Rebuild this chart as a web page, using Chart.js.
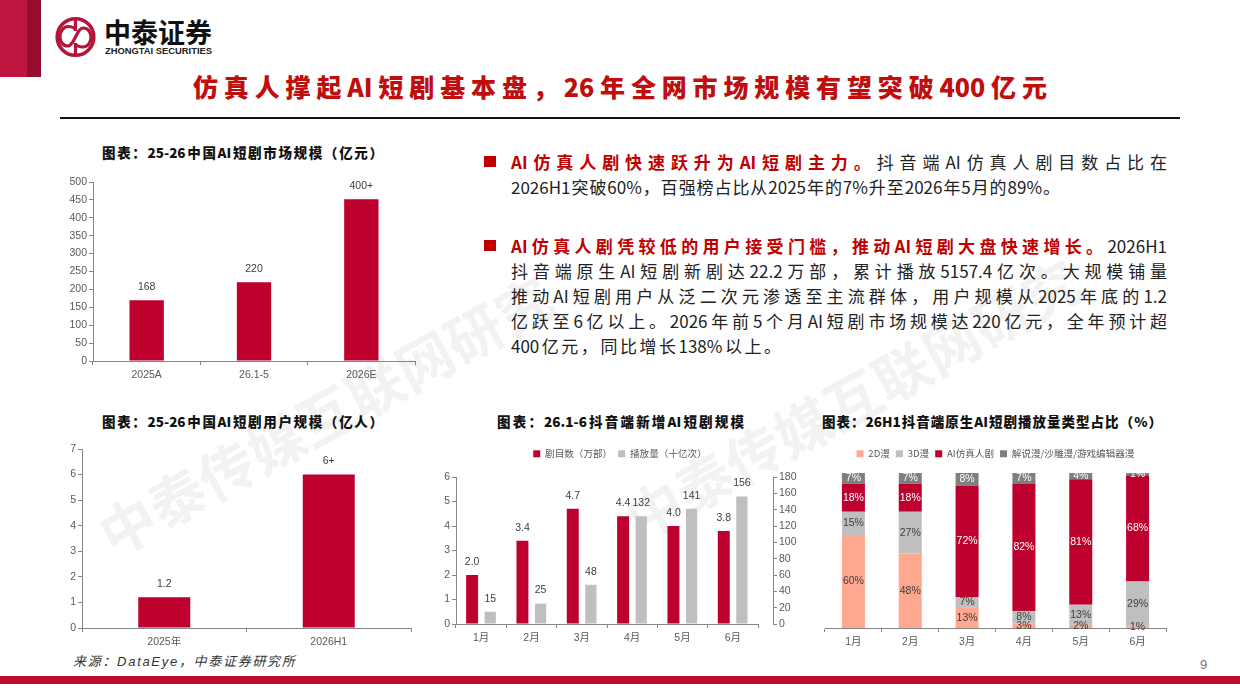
<!DOCTYPE html>
<html>
<head>
<meta charset="utf-8">
<script src="https://cdn.jsdelivr.net/npm/chart.js@4/dist/chart.umd.min.js"></script>
<style>
html,body{margin:0;padding:0;background:#fff;}
#page{position:relative;width:1240px;height:697px;overflow:hidden;font-family:"Noto Sans CJK SC",sans-serif;}
.abs{position:absolute;white-space:nowrap;}
.wm{position:absolute;color:#f2f2f2;font-size:56px;line-height:60px;font-weight:700;white-space:nowrap;transform-origin:left center;transform:rotate(-29deg);letter-spacing:0.6px;}
.ctitle{position:absolute;font-size:13.5px;font-weight:900;color:#111;white-space:normal;text-align:justify;text-align-last:justify;line-height:18px;}
.line{position:absolute;left:511px;font-size:17px;line-height:24px;color:#222;text-align:justify;text-align-last:justify;white-space:normal;}
.line b{color:#c00000;font-weight:700;}
.bullet{position:absolute;left:484px;width:12px;height:11px;background:#c00000;}
.box{position:absolute;}
</style>
</head>
<body>
<div id="page">
  <div class="wm" style="left:102px;top:507px;">中泰传媒互联网研究</div>
  <div class="wm" style="left:629px;top:491px;">中泰传媒互联网研究</div>

  <div class="abs" style="left:0;top:0;width:27px;height:77px;background:#bd1540;"></div>
  <div class="abs" style="left:27px;top:0;width:14px;height:77px;background:#960c2e;"></div>
  <svg class="abs" style="left:50px;top:10px;" width="180" height="55" viewBox="50 10 180 55">
    <circle cx="75.5" cy="37" r="18.3" fill="none" stroke="#b5153a" stroke-width="3.6"/>
    <path d="M75.5 19V31C75.5 27 71 26.5 68 26.5C63 26.5 60 32 60 37C60 42 63 46 68 46C74 46 77 28 83 28C88 28 91 32 91 37C91 42 88 47 83 47C80 47 75.5 46 75.5 43V55" fill="none" stroke="#b5153a" stroke-width="3.2"/>
    <text x="104" y="43" font-size="27" font-weight="700" fill="#111" textLength="108" lengthAdjust="spacingAndGlyphs" font-family="Noto Sans CJK SC">中泰证券</text>
    <text x="105" y="53.5" font-size="8.5" font-weight="700" fill="#222" textLength="107" lengthAdjust="spacingAndGlyphs" font-family="Liberation Sans">ZHONGTAI SECURITIES</text>
  </svg>

  <div class="abs" style="left:193px;top:66px;width:854px;font-size:25px;line-height:40px;font-weight:900;color:#c00d0d;text-align:justify;text-align-last:justify;white-space:normal;">仿真人撑起AI短剧基本盘，26年全网市场规模有望突破400亿元</div>
  <div class="abs" style="left:60px;top:117px;width:1120px;height:2px;background:#111;"></div>

  <div class="bullet" style="top:156px;"></div>
  <div class="line" style="top:150px;width:656px;"><b>AI仿真人剧快速跃升为AI短剧主力。</b>抖音端AI仿真人剧目数占比在</div>
  <div class="line" style="top:175px;width:549px;">2026H1突破60%，百强榜占比从2025年的7%升至2026年5月的89%。</div>
  <div class="bullet" style="top:240px;"></div>
  <div class="line" style="top:234px;width:656px;"><b>AI仿真人剧凭较低的用户接受门槛，推动AI短剧大盘快速增长。</b>2026H1</div>
  <div class="line" style="top:259px;width:656px;">抖音端原生AI短剧新剧达22.2万部，累计播放5157.4亿次。大规模铺量</div>
  <div class="line" style="top:284px;width:656px;">推动AI短剧用户从泛二次元渗透至主流群体，用户规模从2025年底的1.2</div>
  <div class="line" style="top:309px;width:656px;">亿跃至6亿以上。2026年前5个月AI短剧市场规模达220亿元，全年预计超</div>
  <div class="line" style="top:334px;width:270px;">400亿元，同比增长138%以上。</div>

  <div class="ctitle" style="left:102px;width:281px;top:143px;">图表：25-26中国AI短剧市场规模（亿元）</div>
  <div class="ctitle" style="left:102px;width:281px;top:412px;">图表：25-26中国AI短剧用户规模（亿人）</div>
  <div class="ctitle" style="left:497px;width:247px;top:412px;">图表：26.1-6抖音端新增AI短剧规模</div>
  <div class="ctitle" style="left:822px;width:340px;top:412px;">图表：26H1抖音端原生AI短剧播放量类型占比（%）</div>

  <div class="box" style="left:50px;top:170px;width:380px;height:215px;"><canvas id="marketChart"></canvas></div>
  <div class="box" style="left:50px;top:437px;width:380px;height:213px;"><canvas id="userChart"></canvas></div>
  <div class="box" style="left:430px;top:443px;width:380px;height:207px;"><canvas id="newChart"></canvas></div>
  <div class="box" style="left:810px;top:443px;width:380px;height:207px;"><canvas id="typeChart"></canvas></div>

  <div class="abs" style="left:73px;top:651px;font-size:13px;line-height:20px;font-style:italic;color:#333;letter-spacing:1.7px;">来源：<span style="font-family:'Liberation Sans'">DataEye</span>，中泰证券研究所</div>
  <div class="abs" style="left:0;top:676px;width:1240px;height:8px;background:#c00d2e;"></div>
  <div class="abs" style="left:1200px;top:656px;font-size:13px;line-height:18px;color:#777;font-family:'Liberation Sans';">9</div>
</div>

<script>
// market size, 100m yuan
const marketCats = ['2025A', '26.1-5', '2026E']
const marketVals = [170, 220, 452]
const marketLabels = ['168', '220', '400+']

// users, 100m
const userCats = ['2025年', '2026H1']
const userVals = [1.2, 6]
const userLabels = ['1.2', '6+']

// douyin new shows
const months = ['1月', '2月', '3月', '4月', '5月', '6月']
const showCount = [2.0, 3.4, 4.7, 4.4, 4.0, 3.8]
const playCount = [15, 25, 48, 132, 141, 156]

// play share by type, %
const share2D = [60, 48, 13, 3, 2, 1]
const share3D = [15, 27, 7, 8, 13, 29]
const shareAI = [18, 18, 72, 82, 81, 68.6]
const shareOther = [7, 7, 8, 7, 4, 1.4]

const RED = '#bd002e'
const GREY = '#bfbfbf'
const AXIS = '#868686'
const TXT = '#595959'
const LATIN = '"Liberation Sans", "Noto Sans CJK SC", sans-serif'

Chart.defaults.font.family = LATIN
Chart.defaults.animation = false
Chart.defaults.responsive = true
Chart.defaults.maintainAspectRatio = false

// labels above/inside the bars
const barLabels = {
    id: 'barLabels',
    afterDatasetsDraw(chart, args, opts) {
        const ctx = chart.ctx
        ctx.save()
        ctx.font = '10.5px ' + LATIN
        ctx.textAlign = 'center'
        ctx.textBaseline = 'middle'
        chart.data.datasets.forEach((ds, i) => {
            chart.getDatasetMeta(i).data.forEach((bar, j) => {
                const text = ds.valueText ? ds.valueText(j) : ''
                if (opts.inside) {
                    ctx.fillStyle = ds.textColor
                    ctx.fillText(text, bar.x, (bar.y + bar.base) / 2)
                } else {
                    ctx.fillStyle = '#404040'
                    ctx.fillText(text, bar.x, bar.y - 13)
                }
            })
        })
        ctx.restore()
    }
}

// right axis stands a bit away from the plot
const shiftRightAxis = {
    id: 'shiftRightAxis',
    afterLayout(chart) {
        const s = chart.scales.y1
        if (s) {
            s.left += 15
            s.right += 15
        }
    }
}

// keep the legend band a fixed height so the plot top stays put
function legendBand(height) {
    return {
        id: 'legendBand',
        beforeLayout(chart) {
            const legend = chart.legend
            if (legend._bandSet) return
            legend._bandSet = true
            const fit = legend.fit
            legend.fit = function () {
                fit.call(this)
                this.height = height
            }
        }
    }
}

function axisX(height) {
    return {
        grid: { drawOnChartArea: false, color: AXIS, tickLength: 4 },
        border: { color: AXIS },
        ticks: { color: TXT, font: { size: 10.5 }, padding: 4, maxRotation: 0 },
        afterFit(s) { s.height = height }
    }
}

function axisY(width, max, step, position) {
    return {
        position: position || 'left',
        min: 0,
        max: max,
        grid: { drawOnChartArea: false, color: AXIS, tickLength: 4 },
        border: { color: AXIS },
        ticks: { color: TXT, font: { size: 10.5 }, stepSize: step, padding: 2 },
        afterFit(s) { s.width = width }
    }
}

function simpleBars(id, cats, vals, labels, max, step, pad, yWidth, xHeight, barPct) {
    new Chart(document.getElementById(id), {
        type: 'bar',
        data: {
            labels: cats,
            datasets: [{
                data: vals,
                backgroundColor: RED,
                categoryPercentage: 1,
                barPercentage: barPct,
                valueText: j => labels[j]
            }]
        },
        options: {
            layout: { padding: pad },
            plugins: { legend: { display: false }, tooltip: { enabled: false }, barLabels: {} },
            scales: { x: axisX(xHeight), y: axisY(yWidth, max, step) }
        },
        plugins: [barLabels]
    })
}

simpleBars('marketChart', marketCats, marketVals, marketLabels, 500, 50,
    { top: 12, right: 15 }, 43, 24, 0.32)
simpleBars('userChart', userCats, userVals, userLabels, 7, 1,
    { top: 12, right: 19 }, 32, 22, 0.316)

const legendOpts = {
    position: 'top',
    labels: {
        boxWidth: 7,
        boxHeight: 7,
        padding: 6,
        color: TXT,
        font: { size: 9.6, family: '"Noto Sans CJK SC", sans-serif' }
    }
}

new Chart(document.getElementById('newChart'), {
    type: 'bar',
    data: {
        labels: months,
        datasets: [
            {
                label: '剧目数（万部）',
                data: showCount,
                yAxisID: 'y',
                backgroundColor: RED,
                categoryPercentage: 0.72,
                barPercentage: 0.66,
                valueText: j => showCount[j].toFixed(1)
            },
            {
                label: '播放量（十亿次）',
                data: playCount,
                yAxisID: 'y1',
                backgroundColor: GREY,
                categoryPercentage: 0.72,
                barPercentage: 0.62,
                valueText: j => String(playCount[j])
            }
        ]
    },
    options: {
        plugins: { legend: legendOpts, tooltip: { enabled: false }, barLabels: {} },
        scales: {
            x: axisX(26),
            y: axisY(26, 6, 1),
            y1: axisY(52, 180, 20, 'right')
        }
    },
    plugins: [barLabels, shiftRightAxis, legendBand(34)]
})

function pct(arr) {
    return j => Math.floor(arr[j]) + '%'
}

new Chart(document.getElementById('typeChart'), {
    type: 'bar',
    data: {
        labels: months,
        datasets: [
            { label: '2D漫', data: share2D, backgroundColor: '#ffa78f', textColor: '#404040', valueText: pct(share2D) },
            { label: '3D漫', data: share3D, backgroundColor: GREY, textColor: '#404040', valueText: pct(share3D) },
            { label: 'AI仿真人剧', data: shareAI, backgroundColor: RED, textColor: '#fff', valueText: pct(shareAI) },
            { label: '解说漫/沙雕漫/游戏编辑器漫', data: shareOther, backgroundColor: '#7f7f7f', textColor: '#fff', valueText: pct(shareOther) }
        ]
    },
    options: {
        datasets: { bar: { categoryPercentage: 1, barPercentage: 0.405 } },
        layout: { padding: { left: 15, right: 24 } },
        plugins: { legend: legendOpts, tooltip: { enabled: false }, barLabels: { inside: true } },
        scales: {
            x: Object.assign(axisX(22), { stacked: true }),
            y: { stacked: true, min: 0, max: 100, display: false }
        }
    },
    plugins: [barLabels, legendBand(30)]
})
</script>
</body>
</html>
